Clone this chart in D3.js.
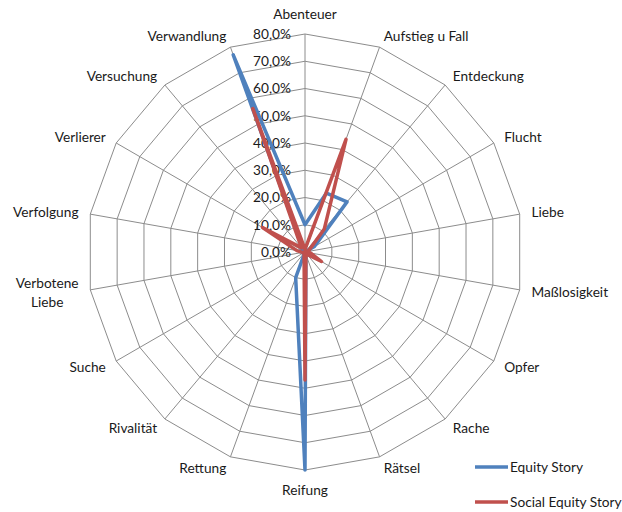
<!DOCTYPE html>
<html lang="de">
<head>
    <meta charset="UTF-8">
    <title>Radar Chart</title>
    <style>
        body {
            margin: 0;
            padding: 0;
            background: #fff;
            font-family: Lato, "Open Sans", sans-serif;
        }

        .grid {
            fill: none;
            stroke: #8c8c8c;
            stroke-width: 1px;
        }

        .label {
            font-size: 13.7px;
            fill: #1a1a1a;
        }

        .series {
            fill: none;
            stroke-width: 3.5px;
            stroke-linejoin: round;
        }
    </style>
    <script src="https://d3js.org/d3.v7.min.js"></script>
</head>
<body>
    <div id="chart"></div>

    <script>
        // Categories clockwise from the top
        const categories = ['Abenteuer', 'Aufstieg u Fall', 'Entdeckung', 'Flucht', 'Liebe', 'Maßlosigkeit',
            'Opfer', 'Rache', 'Rätsel', 'Reifung', 'Rettung', 'Rivalität', 'Suche', 'Verbotene Liebe',
            'Verfolgung', 'Verlierer', 'Versuchung', 'Verwandlung'];

        // Values in percent
        const equityStory = [10, 23, 24, 4, 0, 0, 0, 0, 1, 80, 10, 0, 0, 1, 2, 1, 1, 77];
        const socialEquityStory = [1, 44, 11, 2, 1, 2, 7, 1, 1, 47, 1, 0, 0, 1, 3, 18, 2, 56];

        const tickValues = [0, 10, 20, 30, 40, 50, 60, 70, 80];

        const seriesList = [
            { name: 'Equity Story', values: equityStory, color: '#4f81bd' },
            { name: 'Social Equity Story', values: socialEquityStory, color: '#c0504d' }
        ];

        const width = 622, height = 512;
        const cx = 305, cy = 252, outer = 218;

        const svg = d3.select('#chart')
            .append('svg')
            .attr('width', width)
            .attr('height', height);

        const r = d3.scaleLinear().domain([0, 80]).range([0, outer]);
        const angle = d3.scalePoint().domain(categories).range([0, 2 * Math.PI * (1 - 1 / categories.length)]);
        const fmt = v => d3.format('.1f')(v).replace('.', ',') + '%';

        const g = svg.append('g').attr('transform', `translate(${cx},${cy})`);

        // Rings (polygons)
        tickValues.filter(t => t > 0).forEach(t => {
            g.append('path')
                .attr('class', 'grid')
                .attr('d', d3.lineRadial().angle(d => angle(d)).radius(r(t)).curve(d3.curveLinearClosed)(categories));
        });

        // Spokes
        g.selectAll('.spoke')
            .data(categories)
            .enter().append('line')
            .attr('class', 'grid')
            .attr('x1', 0).attr('y1', 0)
            .attr('x2', d => outer * Math.sin(angle(d)))
            .attr('y2', d => -outer * Math.cos(angle(d)));

        // Tick labels along the first axis
        g.selectAll('.tick')
            .data(tickValues)
            .enter().append('text')
            .attr('class', 'label')
            .attr('x', -14)
            .attr('y', d => -r(d))
            .attr('dy', '0.35em')
            .attr('text-anchor', 'end')
            .text(fmt);

        // Series lines
        seriesList.forEach(s => {
            const line = d3.lineRadial()
                .angle((d, i) => angle(categories[i]))
                .radius(d => r(d))
                .curve(d3.curveLinearClosed);
            g.append('path')
                .attr('class', 'series')
                .attr('stroke', s.color)
                .attr('d', line(s.values));
        });

        // Category labels
        categories.forEach(c => {
            const a = angle(c);
            const s = Math.sin(a), co = Math.cos(a);
            const lr = outer + 12;
            let x = lr * s, y = -lr * co;
            let anchor = 'middle';
            if (s > 0.1) anchor = 'start';
            else if (s < -0.1) anchor = 'end';
            else y -= co * 8;

            const words = c === 'Verbotene Liebe' ? ['Verbotene', 'Liebe'] : [c];
            const t = g.append('text')
                .attr('class', 'label')
                .attr('text-anchor', anchor)
                .attr('x', x)
                .attr('y', y);

            if (words.length === 1) {
                t.attr('dy', '0.35em').text(c);
            } else {
                // two-line label, lines centred on each other
                t.attr('text-anchor', 'middle');
                const first = t.append('tspan').text(words[0]);
                const w = first.node().getComputedTextLength();
                const mid = x - w / 2;
                first.attr('x', mid).attr('dy', '-0.3em');
                t.append('tspan').attr('x', mid).attr('dy', '1.4em').text(words[1]);
            }
        });

        // Legend
        const legend = svg.append('g').attr('transform', 'translate(475,467)');
        seriesList.forEach((s, i) => {
            const row = legend.append('g').attr('transform', `translate(0,${i * 35})`);
            row.append('line')
                .attr('x1', 0).attr('x2', 33)
                .attr('y1', 0).attr('y2', 0)
                .attr('stroke', s.color)
                .attr('stroke-width', 3.5);
            row.append('text')
                .attr('class', 'label')
                .attr('x', 35)
                .attr('dy', '0.35em')
                .text(s.name);
        });
    </script>
</body>
</html>
